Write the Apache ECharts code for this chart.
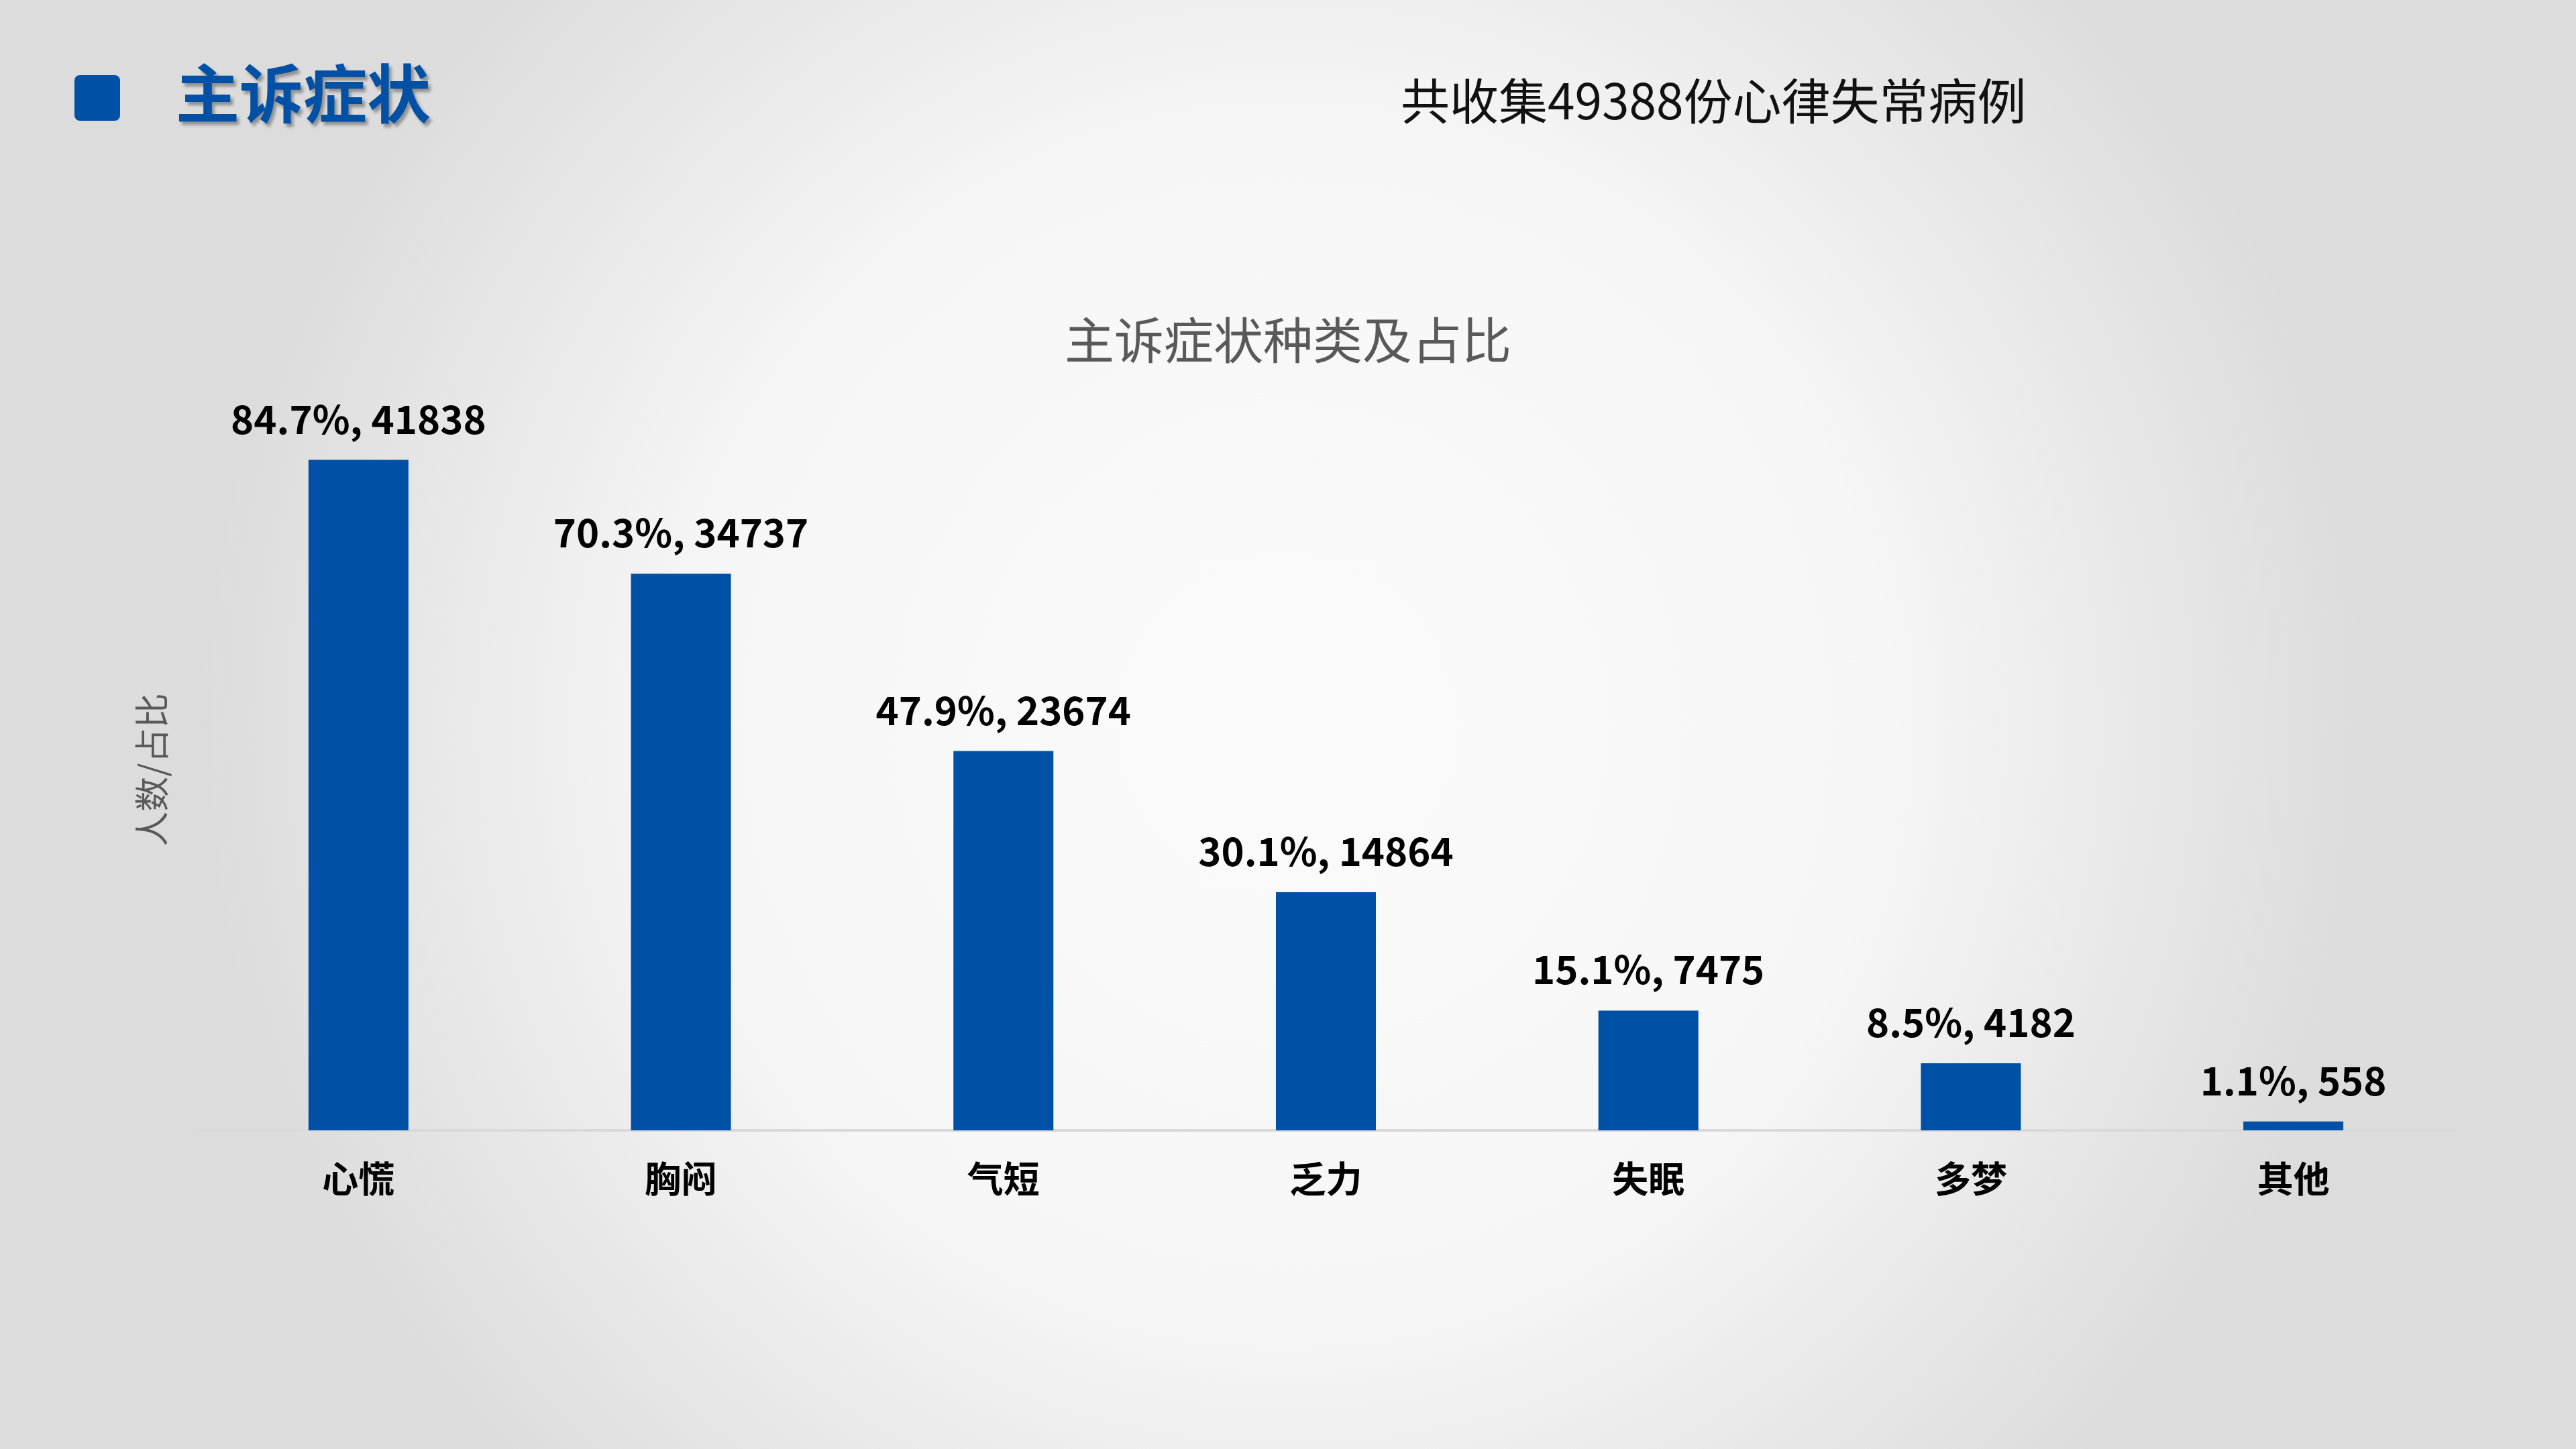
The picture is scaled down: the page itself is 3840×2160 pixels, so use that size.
<!DOCTYPE html>
<html>
<head>
<meta charset="utf-8">
<title>主诉症状</title>
<script src="https://cdn.jsdelivr.net/npm/echarts@6/dist/echarts.min.js"></script>
<style>
  html, body { margin: 0; padding: 0; width: 100%; height: 100%; overflow: hidden; }
  #main { width: 3840px; height: 2160px; }
</style>
</head>
<body>
<div id="main"></div>
<script>
// 症状类别
const categories = ['心慌', '胸闷', '气短', '乏力', '失眠', '多梦', '其他']
// 人数
const counts = [41838, 34737, 23674, 14864, 7475, 4182, 558]
// 占比(%)
const percents = [84.7, 70.3, 47.9, 30.1, 15.1, 8.5, 1.1]

const FONT = '"Noto Sans CJK SC", "Noto Sans", sans-serif'
const chart = echarts.init(document.getElementById('main'))

const option = {
    backgroundColor: new echarts.graphic.RadialGradient(0.5, 0.5, 0.75, [
        { offset: 0, color: '#fbfbfb' },
        { offset: 0.55, color: '#f6f6f6' },
        { offset: 1, color: '#dcdcdc' }
    ]),
    textStyle: { fontFamily: FONT },
    title: {
        text: '主诉症状种类及占比',
        left: 'center',
        top: 465,
        textStyle: {
            fontFamily: FONT,
            fontSize: 74,
            fontWeight: 'normal',
            color: '#595959'
        }
    },
    graphic: [
        {
            type: 'rect',
            left: 111,
            top: 112,
            shape: { width: 68, height: 68, r: 8 },
            style: { fill: '#0050a5' }
        },
        {
            type: 'text',
            left: 262,
            top: 92,
            style: {
                text: '主诉症状',
                font: 'bold 95px ' + FONT,
                fill: '#0050a5',
                textShadowColor: 'rgba(0,0,0,0.35)',
                textShadowOffsetX: 4,
                textShadowOffsetY: 5,
                textShadowBlur: 4
            }
        },
        {
            type: 'text',
            left: 2088,
            top: 114,
            style: {
                text: '共收集49388份心律失常病例',
                font: '73px ' + FONT,
                fill: '#111111'
            }
        }
    ],
    grid: {
        left: 294,
        right: 181,
        top: 610,
        bottom: 475,
        containLabel: false
    },
    xAxis: {
        type: 'category',
        data: categories,
        axisLine: { lineStyle: { color: '#d9d9d9', width: 4 } },
        axisTick: { show: false },
        axisLabel: {
            margin: 45,
            fontSize: 54,
            fontWeight: 'bold',
            color: '#000000',
            fontFamily: FONT
        }
    },
    yAxis: {
        type: 'value',
        min: 0,
        max: 45000,
        name: '人数/占比',
        nameLocation: 'middle',
        nameGap: 42,
        nameTextStyle: {
            fontSize: 52,
            color: '#595959',
            fontFamily: FONT
        },
        axisLine: { show: false },
        axisTick: { show: false },
        axisLabel: { show: false },
        splitLine: { show: false }
    },
    series: [{
        type: 'bar',
        data: counts,
        barWidth: '31%',
        itemStyle: { color: '#0050a5' },
        label: {
            show: true,
            position: 'top',
            distance: 32,
            fontSize: 58,
            fontWeight: 'bold',
            color: '#000000',
            fontFamily: FONT,
            formatter: p => percents[p.dataIndex] + '%, ' + p.value
        }
    }]
}
chart.setOption(option)
</script>
</body>
</html>
